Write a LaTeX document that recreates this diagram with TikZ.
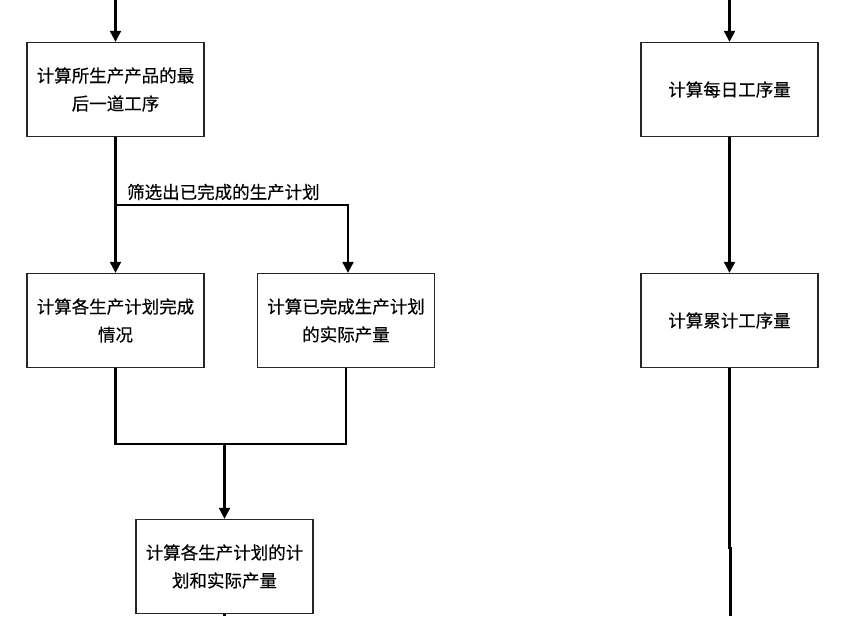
\documentclass[tikz,border=0pt]{standalone}
\usepackage{fontspec}
\setmainfont{Noto Sans CJK SC}[FakeBold=0.3]
\usetikzlibrary{arrows.meta}
\begin{document}
\begin{tikzpicture}[x=1pt,y=-1pt,
  box/.style={draw=black!85, line width=1.3pt, minimum width=177pt, minimum height=94pt,
    align=center, font=\fontsize{17.5}{28}\selectfont, inner sep=0pt},
  lbl/.style={font=\fontsize{17.5}{21}\selectfont, inner sep=0pt},
  conn/.style={line width=2.1pt},
  arr/.style={conn,-{Triangle[length=11pt,width=11pt]}}]
\useasboundingbox (0,0) rectangle (858,616);
% left column
\node[box] (A) at (115.5,89.5) {计算所生产产品的最\\后一道工序};
\node[box] (B) at (115.5,320.5) {计算各生产计划完成\\情况};
\node[box] (C) at (346,320.5) {计算已完成生产计划\\的实际产量};
\node[box] (D) at (224.5,566.5) {计算各生产计划的计\\划和实际产量};
% right column
\node[box] (E) at (729.5,89.5) {计算每日工序量};
\node[box] (F) at (729.5,320.5) {计算累计工序量};
% label
\node[lbl, anchor=west] (L) at (127,192) {筛选出已完成的生产计划};
% coordinates
\coordinate (topA) at (115.5,0);
\coordinate (split) at (115.5,205);
\coordinate (cin) at (348,205);
\coordinate (m) at (224.5,444);
\coordinate (dEnd) at (224.5,616);
\coordinate (topE) at (729.5,0);
\coordinate (j1) at (729.5,548);
\coordinate (j2) at (730.5,548);
\coordinate (fEnd) at (730.5,616);
% connectors
\draw[arr] (topA) -- (A.north);
\draw[arr] (A.south) -- (B.north);
\draw[arr] (split) -- (cin) -- (cin |- C.north);
\draw[conn] (B.south) |- (m) -| (C.south);
\draw[arr] (m) -- (D.north);
\draw[conn] (D.south) -- (dEnd);
\draw[arr] (topE) -- (E.north);
\draw[arr] (E.south) -- (F.north);
\draw[conn] (F.south) -- (j1) -- (j2) -- (fEnd);
\end{tikzpicture}
\end{document}
